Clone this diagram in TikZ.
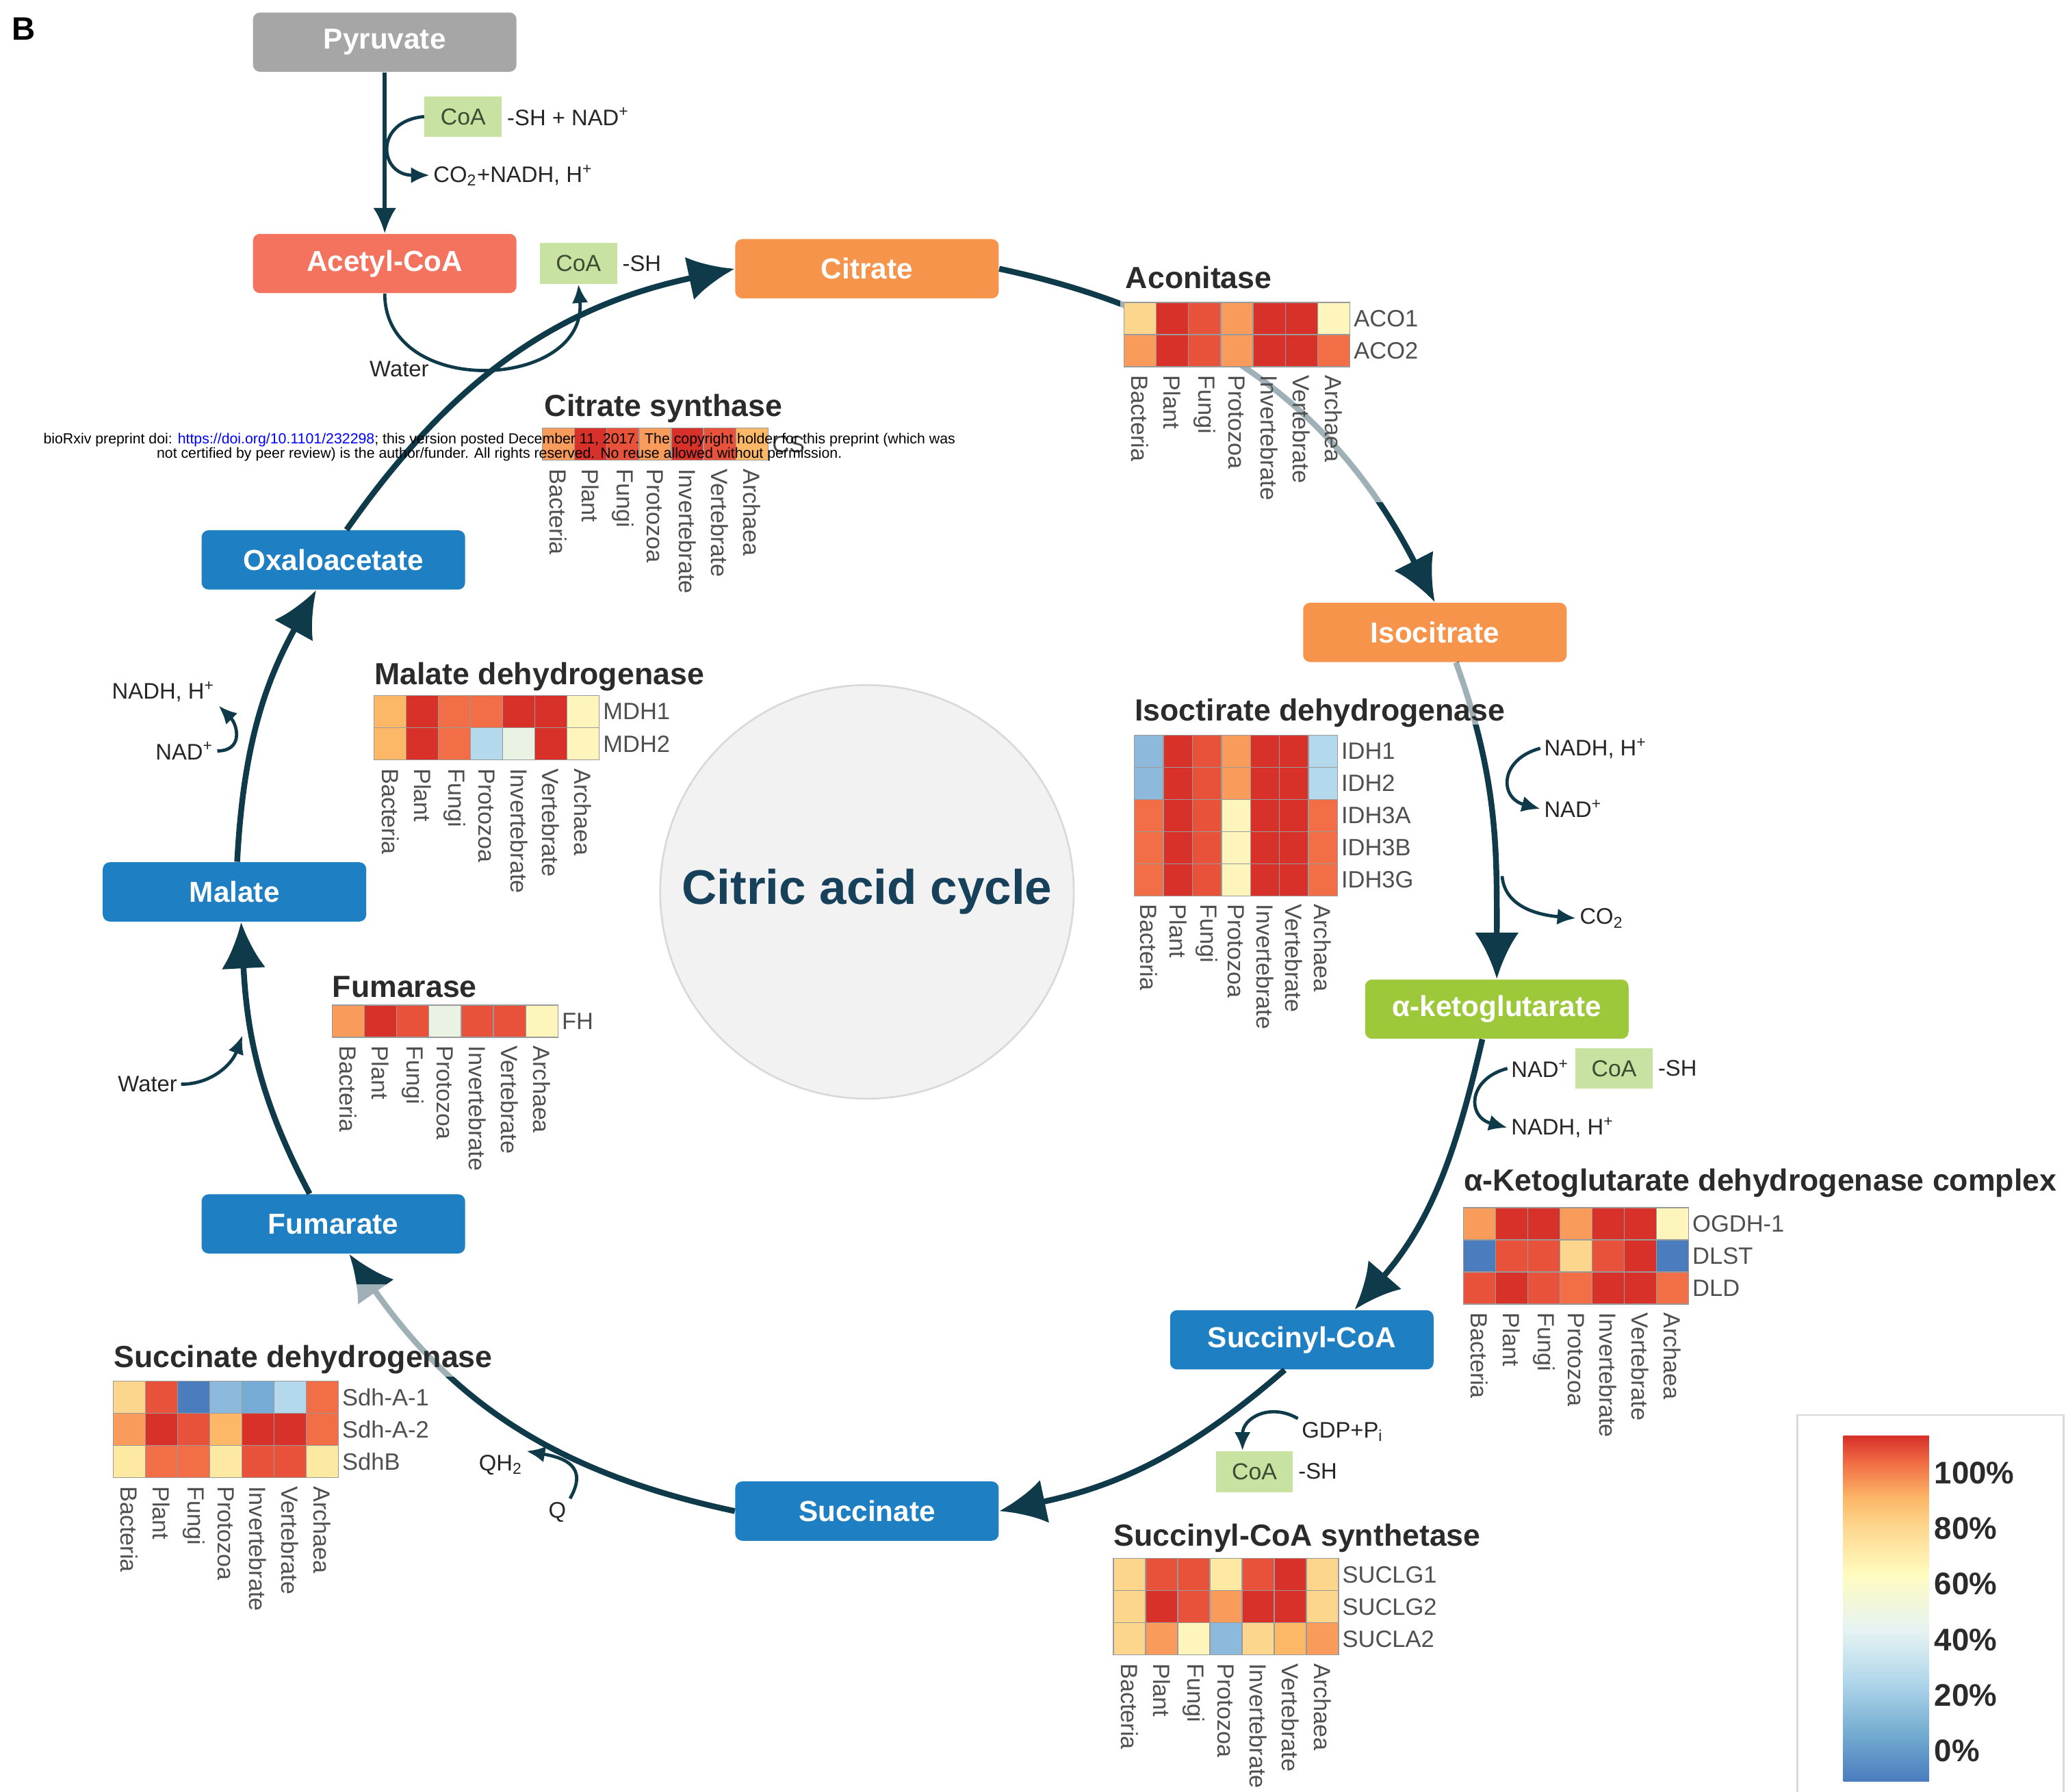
\documentclass[tikz,border=0pt]{standalone}
\usepackage{fontspec}
\setmainfont{Liberation Sans}
\usetikzlibrary{positioning, arrows.meta, calc}

\definecolor{cycline}{HTML}{0F3A4A}
\definecolor{pyrgray}{HTML}{A7A6A6}
\definecolor{acetred}{HTML}{F4735F}
\definecolor{citorange}{HTML}{F7944B}
\definecolor{kggreen}{HTML}{9DC83A}
\definecolor{cycblue}{HTML}{1F7FC3}
\definecolor{coagreen}{HTML}{C8E2A2}
\definecolor{coatext}{HTML}{3E4C33}
\definecolor{titlegray}{HTML}{2B2B2B}
\definecolor{labgray}{HTML}{4F4F4F}
\definecolor{cellline}{HTML}{9A9A9A}
\definecolor{hubfill}{HTML}{F2F2F2}
\definecolor{hubline}{HTML}{D9D9D9}
\definecolor{hubtext}{HTML}{17405A}
% heat map colours
\definecolor{hr1}{HTML}{D7312A}
\definecolor{hr2}{HTML}{E8523A}
\definecolor{ho1}{HTML}{F26E46}
\definecolor{ho2}{HTML}{F89B5B}
\definecolor{ho3}{HTML}{FCB767}
\definecolor{hy1}{HTML}{FDD68D}
\definecolor{hy3}{HTML}{FDE9A2}
\definecolor{hy2}{HTML}{FEF5BC}
\definecolor{hw}{HTML}{EAF2E4}
\definecolor{hb1}{HTML}{B5D9EC}
\definecolor{hb2}{HTML}{8DBADC}
\definecolor{hbm}{HTML}{76ABD6}
\definecolor{hb3}{HTML}{4A7CBE}
\definecolor{scaleb}{HTML}{74ADD1}
\definecolor{scalew}{HTML}{E6F3F2}
\definecolor{scaley}{HTML}{FFFBBF}

\pgfdeclareverticalshading{heatscale}{100bp}{color(0bp)=(hb3); color(25bp)=(hb3);
  color(32bp)=(scaleb); color(40bp)=(hb1); color(47bp)=(scalew); color(55bp)=(scaley);
  color(62bp)=(hy1); color(66bp)=(ho3); color(71bp)=(ho1); color(75bp)=(hr1); color(100bp)=(hr1)}

% one row of a heat map: left x, top y, cell width, colours, label, name
\newcommand{\heatrow}[6]{%
  \foreach \hc [count=\hk from 0] in {#4}
    \filldraw[fill=\hc, draw=cellline, line width=0.4pt] (#1+\hk*#3,-#2) rectangle ++(#3,-24.4);
  \node[rowlab] (#6) at (#1+7*#3,-#2-12.2) {#5};
}
% taxon labels under a heat map: left x, y, cell width, name prefix
\newcommand{\taxa}[4]{%
  \foreach \sp [count=\hk from 0] in {Bacteria,Plant,Fungi,Protozoa,Invertebrate,Vertebrate,Archaea}
    \node[taxon] (#4\hk) at (#1+\hk*#3+0.5*#3,-#2) {\sp};
}

\begin{document}
\begin{tikzpicture}[x=0.02cm, y=0.02cm,
    met/.style={rectangle, rounded corners=3pt, minimum width=4cm, minimum height=0.9cm, text=white, font=\fontsize{12.5}{15}\selectfont\bfseries},
    coa/.style={rectangle, fill=coagreen, minimum width=1.17cm, minimum height=0.62cm, text=coatext, font=\fontsize{10}{12}\selectfont},
    side/.style={inner sep=1.5pt, text=black!85, font=\fontsize{9.7}{11}\selectfont},
    enzyme/.style={anchor=base west, inner sep=0pt, text=titlegray, font=\fontsize{13.2}{15}\selectfont\bfseries},
    rowlab/.style={anchor=west, inner sep=1.5pt, text=labgray, font=\fontsize{10.2}{12}\selectfont},
    taxon/.style={rotate=-90, anchor=west, inner sep=1.5pt, text=labgray, font=\fontsize{10.1}{12}\selectfont},
    cyc/.style={draw=cycline, line width=2.5pt, -{Latex[length=20pt, width=19pt]}},
    feed/.style={draw=cycline, line width=1.8pt, -{Latex[length=11pt, width=10pt]}},
    side arrow/.style={draw=cycline, line width=1.4pt, -{Latex[length=8pt, width=7pt]}},
    panel/.style={fill=white, opacity=0.6},
    pct/.style={anchor=west, inner sep=1pt, text=titlegray, font=\fontsize{13.5}{16}\selectfont\bfseries}
]
\useasboundingbox (0,0) rectangle (1568,-1360);

\node[font=\fontsize{14}{16}\selectfont\bfseries] (panelB) at (18,-22) {B};

% Centre
\node[circle, fill=hubfill, draw=hubline, line width=0.8pt, minimum size=6.28cm, text=hubtext,
  font=\fontsize{21}{25}\selectfont\bfseries] (hub) at (658,-677) {Citric acid cycle};

% Metabolites
\node[met, fill=pyrgray] (pyruvate) at (292,-32) {Pyruvate};
\node[met, fill=acetred] (acetyl) at (292,-200) {Acetyl-CoA};
\node[met, fill=citorange] (citrate) at (658,-204) {Citrate};
\node[met, fill=citorange] (isocitrate) at (1089,-480) {Isocitrate};
\node[met, fill=kggreen] (akg) at (1136,-766) {α-ketoglutarate};
\node[met, fill=cycblue] (succoa) at (988,-1017) {Succinyl-CoA};
\node[met, fill=cycblue] (succinate) at (658,-1147) {Succinate};
\node[met, fill=cycblue] (fumarate) at (253,-929) {Fumarate};
\node[met, fill=cycblue] (malate) at (178,-677) {Malate};
\node[met, fill=cycblue] (oxalo) at (253,-425) {Oxaloacetate};

% Cycle
\draw[cyc] ($(oxalo.north)+(10,0)$) to[out=55, in=192] (citrate.west);
\draw[cyc] (citrate.east) to[out=-12, in=117] (isocitrate.north);
\draw[cyc] ($(isocitrate.south)+(16,0)$) to[out=-70, in=90] (akg.north);
\draw[cyc] ($(akg.south)+(-11,0)$) to[out=-103, in=49] ($(succoa.north)+(40,0)$);
\draw[cyc] ($(succoa.south)+(-13,0)$) to[out=-139, in=12] (succinate.east);
\draw[cyc] (succinate.west) to[out=168, in=-55] ($(fumarate.south)+(12,0)$);
\draw[cyc] ($(fumarate.north)+(-18,0)$) to[out=118, in=-87] ($(malate.south)+(5,0)$);
\draw[cyc] ($(malate.north)+(2,0)$) to[out=87, in=-119] ($(oxalo.south)+(-13,0)$);

% Pyruvate to acetyl-CoA
\draw[feed] (pyruvate) -- (acetyl);
\node[coa] (coa1) at (351.5,-88.5) {CoA};
\node[side, right=0.5pt of coa1] (coa1sh) {-SH + NAD\textsuperscript{+}};
\node[side, anchor=west] (co2a) at (326,-133) {CO\textsubscript{2}+NADH, H\textsuperscript{+}};
\draw[side arrow] (coa1.west) to[out=185, in=180, looseness=2.2] (co2a.west);

% Acetyl-CoA into the cycle
\node[coa] (coa2) at (439,-200) {CoA};
\node[side, right=0.5pt of coa2] (coa2sh) {-SH};
\node[side] (water1) at (303,-280) {Water};
\draw[side arrow] (acetyl.south) to[out=-90, in=-85, looseness=1.4] (coa2.south);

% Isocitrate side
\node[side, anchor=west] (nadh2) at (1169,-568) {NADH, H\textsuperscript{+}};
\node[side, anchor=west] (nad2) at (1169,-614) {NAD\textsuperscript{+}};
\draw[side arrow] (nadh2.west) to[out=195, in=165, looseness=1.8] (nad2.west);
\coordinate (kgfork) at (1140,-665);
\node[side, anchor=west] (co2b) at (1196,-697) {CO\textsubscript{2}};
\draw[side arrow] (kgfork) to[out=-85, in=175] (co2b.west);

% alpha-ketoglutarate side
\node[side, anchor=west] (nad3) at (1144,-811) {NAD\textsuperscript{+}};
\node[coa] (coa3) at (1225,-811) {CoA};
\node[side, right=0.5pt of coa3] (coa3sh) {-SH};
\node[side, anchor=west] (nadh3) at (1144,-856) {NADH, H\textsuperscript{+}};
\draw[side arrow] (nad3.west) to[out=195, in=165, looseness=1.8] (nadh3.west);

% Succinyl-CoA side
\node[side, anchor=west] (gdp) at (985,-1087) {GDP+P\textsubscript{i}};
\node[coa] (coa4) at (952,-1117) {CoA};
\node[side, right=0.5pt of coa4] (coa4sh) {-SH};
\draw[side arrow] (gdp.north west) to[out=150, in=90, looseness=1.3] ($(coa4.north)+(-9,0)$);

% Succinate side
\node[side] (qh2) at (380,-1112) {QH\textsubscript{2}};
\node[side] (q) at (423,-1148) {Q};
\draw[side arrow] (q.north east) to[out=60, in=-10, looseness=1.5] (qh2.north east);

% Fumarate side
\node[side] (water2) at (112,-823) {Water};
\coordinate (fumjoin) at (184,-786);
\draw[side arrow] (water2.east) to[out=0, in=-110] (fumjoin);

% Malate side
\node[side] (nadh4) at (124,-525) {NADH, H\textsuperscript{+}};
\node[side] (nad4) at (140,-570) {NAD\textsuperscript{+}};
\draw[side arrow] (nad4.east) to[out=0, in=-45, looseness=1.5] (nadh4.south east);

% Heat maps
\fill[panel] (850,-200) rectangle (1050,-381);
\fill[panel] (855,-503) rectangle (1146,-550);
\fill[panel] (80,-975) rectangle (378,-1045);

\node[enzyme] (aconitase) at (854,-219) {Aconitase};
\heatrow{853}{229.5}{24.5}{hy1,hr1,hr2,ho2,hr1,hr1,hy2}{ACO1}{aco1}
\heatrow{853}{253.9}{24.5}{ho2,hr1,hr2,ho2,hr1,hr1,ho1}{ACO2}{aco2}
\taxa{853}{282}{24.5}{acot}

\node[enzyme] (csynth) at (413,-316) {Citrate synthase};
\heatrow{411.5}{325}{24.5}{ho2,hr1,hr2,ho2,hr1,hr2,ho3}{CS}{cs}
\taxa{411.5}{353}{24.5}{cst}

\node[enzyme] (mdh) at (284,-519.5) {Malate dehydrogenase};
\heatrow{284}{528}{24.4}{ho3,hr1,ho1,ho1,hr1,hr1,hy2}{MDH1}{mdh1}
\heatrow{284}{552.4}{24.4}{ho3,hr1,ho1,hb1,hw,hr1,hy2}{MDH2}{mdh2}
\taxa{284}{580.5}{24.4}{mdht}

\node[enzyme] (idh) at (861,-547) {Isoctirate dehydrogenase};
\heatrow{861}{558}{22}{hb2,hr1,hr2,ho2,hr1,hr1,hb1}{IDH1}{idh1}
\heatrow{861}{582.4}{22}{hb2,hr1,hr2,ho2,hr1,hr1,hb1}{IDH2}{idh2}
\heatrow{861}{606.8}{22}{ho1,hr1,hr2,hy2,hr1,hr1,ho1}{IDH3A}{idh3a}
\heatrow{861}{631.2}{22}{ho1,hr1,hr2,hy2,hr1,hr1,ho1}{IDH3B}{idh3b}
\heatrow{861}{655.6}{22}{ho1,hr1,hr2,hy2,hr1,hr1,ho1}{IDH3G}{idh3g}
\taxa{861}{683.5}{22}{idht}

\node[enzyme] (fumarase) at (252,-757) {Fumarase};
\heatrow{252}{763}{24.5}{ho2,hr1,hr2,hw,hr2,hr2,hy2}{FH}{fh}
\taxa{252}{791}{24.5}{fht}

\node[enzyme] (ogdc) at (1110.7,-904) {α-Ketoglutarate dehydrogenase complex};
\heatrow{1110.7}{916.7}{24.4}{ho2,hr1,hr1,ho2,hr1,hr1,hy2}{OGDH-1}{ogdh}
\heatrow{1110.7}{941.1}{24.4}{hb3,hr2,hr2,hy1,hr2,hr1,hb3}{DLST}{dlst}
\heatrow{1110.7}{965.5}{24.4}{hr2,hr1,hr2,ho1,hr1,hr1,ho1}{DLD}{dld}
\taxa{1110.7}{993.5}{24.4}{ogdct}

\node[enzyme] (sdh) at (86,-1038) {Succinate dehydrogenase};
\heatrow{86}{1048.5}{24.4}{hy1,hr2,hb3,hb2,hbm,hb1,ho1}{Sdh-A-1}{sdha1}
\heatrow{86}{1072.9}{24.4}{ho2,hr1,hr2,ho3,hr1,hr1,ho1}{Sdh-A-2}{sdha2}
\heatrow{86}{1097.3}{24.4}{hy3,ho1,ho1,hy3,hr2,hr2,hy3}{SdhB}{sdhb}
\taxa{86}{1125.3}{24.4}{sdht}

\node[enzyme] (scs) at (845,-1173.5) {Succinyl-CoA synthetase};
\heatrow{845}{1183}{24.4}{hy1,hr2,hr2,hy3,hr2,hr1,hy1}{SUCLG1}{suclg1}
\heatrow{845}{1207.4}{24.4}{hy1,hr1,hr2,ho2,hr1,hr1,hy1}{SUCLG2}{suclg2}
\heatrow{845}{1231.8}{24.4}{hy1,ho2,hy2,hb2,hy1,ho3,ho2}{SUCLA2}{sucla2}
\taxa{845}{1259.8}{24.4}{scst}

% Colour scale
\draw[hubline, line width=0.8pt] (1364,-1074) rectangle (1566,-1380);
\shade[shading=heatscale] (1399,-1090) rectangle (1464,-1352);
\foreach \v [count=\i from 0] in {100,80,60,40,20,0}
  \node[pct] (pct\v) at (1466,-1118-\i*42.2) {\v\%};

% Preprint notice
\node[align=center, inner sep=0pt, font=\fontsize{6.3}{6.3}\selectfont] (notice) at (379,-339.5)
  {bioRxiv preprint doi: \textcolor{blue}{https://doi.org/10.1101/232298}; this version posted December 11, 2017. The copyright holder for this preprint (which was\\
   not certified by peer review) is the author/funder. All rights reserved. No reuse allowed without permission.};

\end{tikzpicture}
\end{document}
